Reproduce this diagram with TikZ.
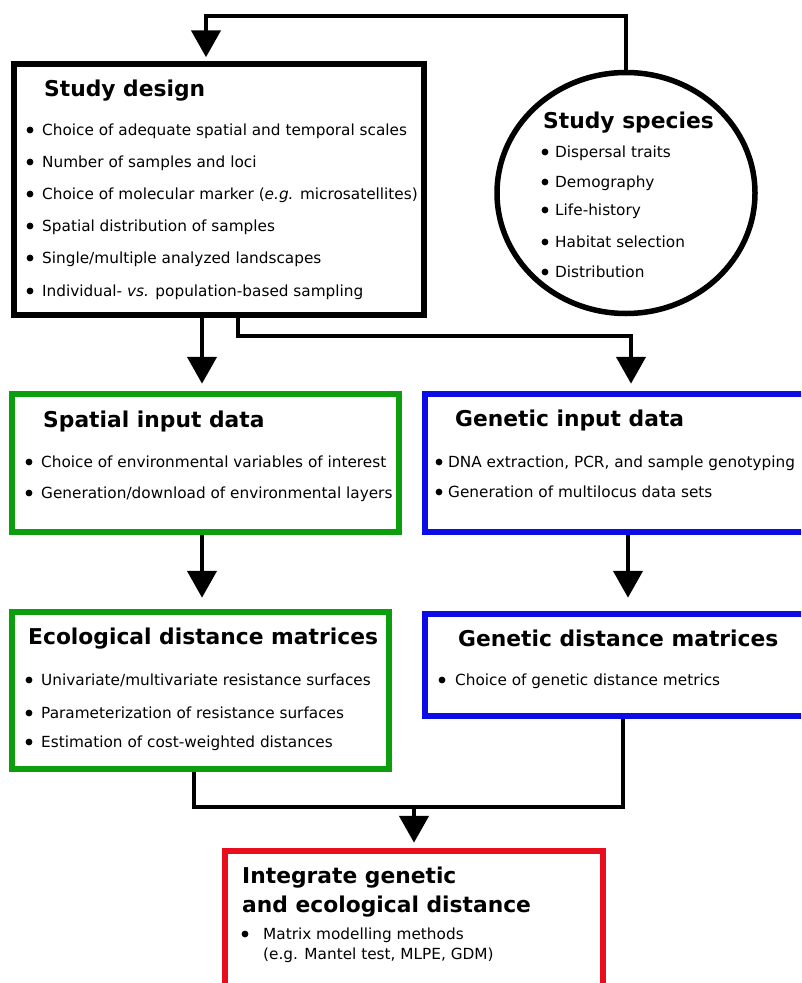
\documentclass[tikz,border=0pt]{standalone}
\usepackage{fontspec}
\setmainfont{DejaVu Sans}
\usetikzlibrary{arrows.meta,shapes.geometric}

\definecolor{boxgreen}{RGB}{12,158,12}
\definecolor{boxblue}{RGB}{12,12,228}
\definecolor{boxred}{RGB}{232,14,30}

% bullet item: name, bullet x, text x, baseline y, text
\newcommand{\bitem}[5]{%
  \fill (#2,#4-5) circle (3.4);
  \node[body,anchor=base west] (#1) at (#3,#4) {#5};}

\begin{document}
\begin{tikzpicture}[x=1pt,y=-1pt,
  box/.style={draw,line width=5.5pt,rectangle,inner sep=0pt},
  conn/.style={line width=4.6pt,-{Triangle[width=29pt,length=27pt]}},
  link/.style={line width=4.6pt},
  body/.style={font=\fontsize{15.3}{18}\selectfont,inner sep=0pt},
  title/.style={font=\fontsize{21.8}{26}\selectfont\bfseries,inner sep=0pt,anchor=base west}]

\useasboundingbox (0,0) rectangle (801,983);

\begin{scope}
\clip (0,0) rectangle (801,983);

% ---------- boxes ----------
\node[box,minimum width=410pt,minimum height=251pt] (design) at (219,189.5) {};
\node[draw,ellipse,line width=5.5pt,inner sep=0pt,minimum width=258pt,minimum height=241pt] (species) at (626,193) {};
\node[box,draw=boxgreen,minimum width=387pt,minimum height=138pt] (spatial) at (205.5,463) {};
\node[box,draw=boxblue,minimum width=381pt,minimum height=138pt] (genin) at (615.5,463) {};
\node[box,draw=boxgreen,minimum width=377pt,minimum height=157pt] (ecol) at (200.5,690.5) {};
\node[box,draw=boxblue,minimum width=381pt,minimum height=102pt] (gendist) at (615.5,665) {};
\node[box,draw=boxred,minimum width=378pt,minimum height=139pt] (integ) at (414,920.5) {};

% ---------- connectors ----------
\coordinate (loop) at (626,16);
\draw[conn,shorten >=4pt] (species.north) -- (loop) -| ([xshift=-13pt]design.north);

\draw[conn,shorten >=7.5pt] ([xshift=-17pt]design.south) -- ([xshift=-3.5pt]spatial.north);
\coordinate (split) at (238,336);
\draw[conn,shorten >=7.5pt] ([xshift=19pt]design.south) |- (split) -| ([xshift=15.5pt]genin.north);

\draw[conn,shorten >=11.5pt] ([xshift=-3.5pt]spatial.south) -- ([xshift=1.5pt]ecol.north);
\draw[conn,shorten >=13.5pt] ([xshift=12.5pt]genin.south) -- ([xshift=12.5pt]gendist.north);

\coordinate (join) at (414,807);
\draw[link] ([xshift=-6.5pt]ecol.south) |- (join) -| ([xshift=7.5pt]gendist.south);
\draw[conn,shorten >=5.5pt] (join) -- (integ.north);
\end{scope}

% ---------- Study design ----------
\node[title] (t-design) at (44,96) {Study design};
\bitem{d1}{30}{42}{135}{Choice of adequate spatial and temporal scales}
\bitem{d2}{30}{42}{167}{Number of samples and loci}
\bitem{d3}{30}{42}{199}{Choice of molecular marker (\textit{e.g.} microsatellites)}
\bitem{d4}{30}{42}{231}{Spatial distribution of samples}
\bitem{d5}{30}{42}{263}{Single/multiple analyzed landscapes}
\bitem{d6}{30}{42}{296}{Individual- \textit{vs.} population-based sampling}

% ---------- Study species ----------
\node[title] (t-species) at (543,128) {Study species};
\bitem{s1}{545}{555}{157}{Dispersal traits}
\bitem{s2}{545}{555}{187}{Demography}
\bitem{s3}{545}{555}{215}{Life-history}
\bitem{s4}{545}{555}{247}{Habitat selection}
\bitem{s5}{545}{555}{277}{Distribution}

% ---------- Spatial input data ----------
\node[title] (t-spatial) at (43,427) {Spatial input data};
\bitem{p1}{29}{41}{467}{Choice of environmental variables of interest}
\bitem{p2}{29}{41}{498}{Generation/download of environmental layers}

% ---------- Genetic input data ----------
\node[title] (t-genin) at (455,426) {Genetic input data};
\bitem{g1}{439}{448}{467}{DNA extraction, PCR, and sample genotyping}
\bitem{g2}{439}{448}{497}{Generation of multilocus data sets}

% ---------- Ecological distance matrices ----------
\node[title] (t-ecol) at (28,644) {Ecological distance matrices};
\bitem{e1}{29}{41}{685}{Univariate/multivariate resistance surfaces}
\bitem{e2}{29}{41}{718}{Parameterization of resistance surfaces}
\bitem{e3}{29}{41}{747}{Estimation of cost-weighted distances}

% ---------- Genetic distance matrices ----------
\node[title] (t-gendist) at (458,646) {Genetic distance matrices};
\bitem{h1}{442}{455}{685}{Choice of genetic distance metrics}

% ---------- Integration ----------
\node[title] (t-integ1) at (242,883) {Integrate genetic};
\node[title] (t-integ2) at (242,912) {and ecological distance};
\bitem{i1}{245}{263}{939}{Matrix modelling methods}
\node[body,anchor=base west] (i2) at (263,959) {(e.g. Mantel test, MLPE, GDM)};

\end{tikzpicture}
\end{document}
